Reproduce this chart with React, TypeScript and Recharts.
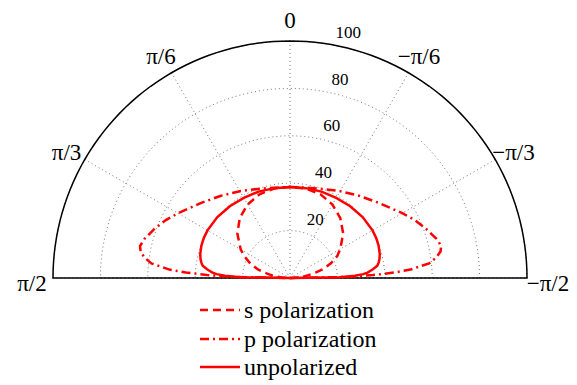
import React from 'react';
import {
  RadarChart,
  Radar,
  PolarGrid,
  PolarAngleAxis,
  PolarRadiusAxis,
  Legend
} from 'recharts';

// angle in degrees, +90 = left (π/2), -90 = right (−π/2)
const ANGLES = [-90, -89, -88, -87, -86, -84, -82, -80, -78, -75, -70, -65, -60, -50, -40, -30, -20, -10, 0,
  10, 20, 30, 40, 50, 60, 65, 70, 75, 78, 80, 82, 84, 86, 87, 88, 89, 90];

const S_POL = [0, 0.8, 1.6, 2.5, 3.5, 5.5, 7.5, 9.0, 11.0, 14.5, 18.5, 22.0, 24.5, 29.3, 33.0, 35.8, 37.6, 38.3, 38.4,
  38.3, 37.6, 35.8, 33.0, 29.0, 24.0, 21.0, 17.8, 14.0, 11.0, 9.0, 7.5, 5.5, 3.5, 2.5, 1.6, 0.8, 0];

const P_POL = [0, 23.0, 35.0, 44.0, 51.0, 59.0, 62.3, 64.5, 65.2, 64.0, 61.0, 58.0, 54.7, 49.2, 45.3, 42.3, 40.0, 38.7, 38.4,
  38.7, 40.0, 42.3, 45.3, 49.2, 54.6, 57.8, 60.8, 63.6, 64.7, 64.0, 62.0, 58.8, 51.0, 44.0, 35.0, 23.0, 0];

const UNPOL = [0, 21.0, 27.5, 31.0, 32.8, 35.2, 37.2, 38.0, 38.6, 39.2, 39.8, 40.1, 40.2, 40.0, 39.5, 39.0, 38.8, 38.5, 38.4,
  38.5, 38.8, 39.0, 39.5, 40.0, 40.2, 40.1, 39.8, 39.2, 38.6, 38.0, 37.2, 35.2, 32.8, 31.0, 27.5, 21.0, 0];

const ANGLE_TICKS = [-90, -60, -30, 0, 30, 60, 90];
const ANGLE_LABELS = ['\u2212\u03c0/2', '\u2212\u03c0/3', '\u2212\u03c0/6', '0', '\u03c0/6', '\u03c0/3', '\u03c0/2'];
const RADIUS_TICKS = [20, 40, 60, 80, 100];

const SERIES = [
  { key: 's', name: 's polarization', dash: '8 5' },
  { key: 'p', name: 'p polarization', dash: '9 4 2 4' },
  { key: 'u', name: 'unpolarized', dash: undefined }
];

const data = ANGLES.map((angle, i) => ({ angle, s: S_POL[i], p: P_POL[i], u: UNPOL[i] }));

// fine set of angles so the polygon grid looks like arcs
const ARC = Array.from({ length: 91 }, (_, i) => i * 2);

const FONT = 'Liberation Serif, Times New Roman, Times, DejaVu Serif, serif';

const AngleTick = (props: any) => {
  const { x, y, payload } = props;
  const idx = ANGLE_TICKS.indexOf(payload.value);
  const shift = (Math.abs(payload.value) / 90) * 5;
  return (
    <text x={x} y={y + shift} textAnchor="middle" dominantBaseline="central" fontSize={23} style={{ fontFamily: FONT }} fill="#000">
      {ANGLE_LABELS[idx]}
    </text>
  );
};

const RadiusTick = (props: any) => {
  const { x, y, payload } = props;
  return (
    <text x={x + 17} y={y - 12} textAnchor="middle" dominantBaseline="central" fontSize={17} style={{ fontFamily: FONT }} fill="#000">
      {payload.value}
    </text>
  );
};

const renderLegend = () => (
  <div style={{ fontFamily: FONT, fontSize: 24, color: '#000' }}>
    {SERIES.map(s => (
      <div key={s.key} style={{ display: 'flex', alignItems: 'center', height: 28.5 }}>
        <svg width={40} height={10}>
          <line x1={0} y1={5} x2={40} y2={5} stroke="#ff0000" strokeWidth={2.5} strokeDasharray={s.dash} />
        </svg>
        <span style={{ marginLeft: 4, lineHeight: '28.5px' }}>{s.name}</span>
      </div>
    ))}
  </div>
);

export default function App() {
  return (
    <div style={{ position: 'absolute', left: 0, top: 0, width: 577, height: 385, background: '#fff', fontFamily: FONT }}>
      <RadarChart
        width={577}
        height={385}
        data={data}
        cx={290}
        cy={278}
        outerRadius={237}
        startAngle={0}
        endAngle={180}
        margin={{ top: 0, right: 0, bottom: 0, left: 0 }}
      >
        <PolarGrid gridType="polygon" polarAngles={ARC} radialLines={false} stroke="#777" strokeDasharray="1 3" />
        <PolarGrid polarAngles={[30, 60, 90, 120, 150]} polarRadius={[]} stroke="#777" strokeDasharray="1 3" />
        <PolarGrid polarAngles={ARC} polarRadius={[237]} radialLines={false} stroke="#000" strokeWidth={1.5} />
        <PolarAngleAxis
          dataKey="angle"
          type="number"
          domain={[-90, 90]}
          ticks={ANGLE_TICKS}
          tickSize={21}
          tickLine={false}
          axisLine={false}
          tick={<AngleTick />}
        />
        <PolarRadiusAxis
          angle={80}
          type="number"
          domain={[0, 100]}
          ticks={RADIUS_TICKS}
          axisLine={false}
          tickLine={false}
          tick={<RadiusTick />}
        />
        {SERIES.map(s => (
          <Radar
            key={s.key}
            name={s.name}
            dataKey={s.key}
            stroke="#ff0000"
            strokeWidth={2.5}
            strokeDasharray={s.dash}
            fill="none"
            fillOpacity={0}
            dot={false}
            isAnimationActive={false}
          />
        ))}
        <Legend
          layout="vertical"
          align="center"
          verticalAlign="middle"
          content={renderLegend}
          wrapperStyle={{ left: 200, top: 296, width: 220 }}
        />
      </RadarChart>
    </div>
  );
}
